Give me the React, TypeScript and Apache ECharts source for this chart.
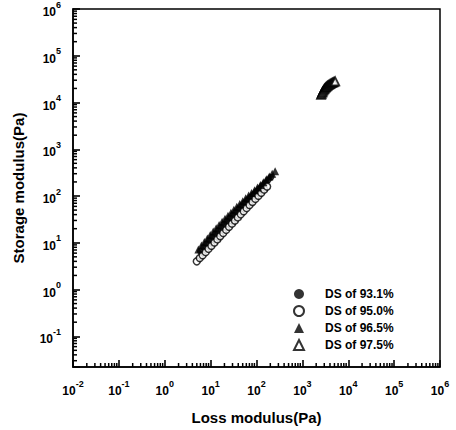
import React, { useEffect, useRef } from "react";
import * as echarts from "echarts";

const seriesNames = ["DS of 93.1%", "DS of 95.0%", "DS of 96.5%", "DS of 97.5%"];

// DS 93.1% (filled circles)
const ds931X = [6.0, 7.0, 8.1, 9.4, 10.9, 12.6, 14.6, 16.9, 19.6, 22.7, 26.3, 30.5, 35.3, 40.9, 47.4, 54.9, 63.6, 73.7, 85.4, 98.9, 115, 133, 154, 178, 206];
const ds931Y = [6.6, 7.9, 9.4, 11.1, 13.1, 15.4, 18.1, 21.2, 24.8, 29.0, 33.8, 39.3, 45.6, 52.8, 61.0, 70.5, 81.2, 93.5, 108, 124, 143, 165, 190, 219, 252];

// DS 95.0% (open circles)
const ds950X = [5.0, 5.8, 6.7, 7.8, 9.0, 10.4, 12.1, 14.0, 16.2, 18.8, 21.8, 25.2, 29.2, 33.8, 39.2, 45.4, 52.6, 60.9, 70.5, 81.7, 94.6, 110, 127, 147, 170];
const ds950Y = [4.0, 4.7, 5.4, 6.3, 7.4, 8.6, 10.1, 11.8, 13.8, 16.1, 18.8, 22.0, 25.6, 29.8, 34.8, 40.5, 47.2, 55.0, 64.0, 74.6, 86.8, 101, 117, 137, 159];

// DS 96.5% (filled triangles)
const ds965X = [5.4, 6.3, 7.3, 8.5, 9.8, 11.4, 13.2, 15.3, 17.8, 20.6, 23.9, 27.7, 32.1, 37.2, 43.2, 50.1, 58.1, 67.4, 78.1, 90.6, 105, 122, 141, 164, 190, 220, 255];
const ds965Y = [7.2, 8.7, 10.4, 12.4, 14.7, 17.4, 20.5, 24.0, 28.0, 32.6, 37.9, 43.9, 50.8, 58.6, 67.5, 77.6, 89.0, 102, 116, 133, 152, 173, 198, 228, 262, 299, 340];

// DS 97.5% (open triangles)
const ds975X = [2550, 2620, 2700, 2780, 2870, 2960, 3060, 3170, 3280, 3400, 3530, 3670, 3820, 3980, 4150, 4330, 4520, 4720, 4950, 5200];
const ds975Y = [14500, 15400, 16300, 17200, 18100, 19000, 19800, 20600, 21400, 22100, 22800, 23500, 24100, 24700, 25300, 25900, 26500, 27100, 27700, 28300];

const X_MIN = 0.01;
const X_MAX = 1e6;
const Y_MIN = 0.022;
const Y_MAX = 1e6;

const FONT = "'Liberation Sans', Arial, Helvetica, sans-serif";

function zip(xs: number[], ys: number[]) {
  return xs.map((x, i) => [x, ys[i]]);
}

function minorTicks(lo: number, hi: number) {
  const out: number[] = [];
  for (let e = -3; e <= 6; e++) {
    for (let m = 2; m <= 9; m++) {
      const v = m * Math.pow(10, e);
      if (v > lo && v < hi) out.push(v);
    }
  }
  return out;
}

function powLabel(v: number) {
  const l = Math.log10(v);
  const e = Math.round(l);
  if (Math.abs(l - e) > 1e-6) return "";
  return `{b|10}{s|${e}}`;
}

const richLabel = {
  b: { fontSize: 12, fontWeight: "bold", fontFamily: FONT, color: "#000", lineHeight: 18, verticalAlign: "bottom" },
  s: { fontSize: 9, fontWeight: "bold", fontFamily: FONT, color: "#000", lineHeight: 11, verticalAlign: "top" },
};

export default function App() {
  const ref = useRef<HTMLDivElement>(null);
  useEffect(() => {
    if (!ref.current) return;
    const chart = echarts.init(ref.current, null, { renderer: "svg" });
    const xMinor = minorTicks(X_MIN, X_MAX).map((v) => [v, Y_MIN]);
    const yMinor = minorTicks(Y_MIN, Y_MAX).map((v) => [X_MIN, v]);
    const black = "#000";
    chart.setOption({
      animation: false,
      backgroundColor: "#fff",
      grid: {
        left: 73,
        right: 16,
        top: 9,
        bottom: 58,
        show: true,
        borderColor: black,
        borderWidth: 1.5,
      },
      legend: {
        orient: "vertical",
        left: 288,
        top: 283,
        itemWidth: 10,
        itemHeight: 10,
        itemGap: 5,
        data: seriesNames,
        textStyle: {
          fontFamily: FONT,
          fontWeight: "bold",
          fontSize: 12,
          color: black,
          padding: [0, 0, 0, 16],
          lineHeight: 10,
        },
      },
      xAxis: {
        type: "log",
        logBase: 10,
        min: X_MIN,
        max: X_MAX,
        splitNumber: 8,
        z: 10,
        name: "Loss modulus(Pa)",
        nameLocation: "middle",
        nameGap: 43,
        nameTextStyle: { fontFamily: FONT, fontWeight: "bold", fontSize: 15, color: black },
        axisLine: { show: true, onZero: false, lineStyle: { color: black, width: 1.5 } },
        axisTick: { show: true, inside: true, length: 7, lineStyle: { color: black, width: 1.6 } },
        splitLine: { show: false },
        axisLabel: { margin: 12, formatter: powLabel, rich: richLabel },
      },
      yAxis: {
        type: "log",
        logBase: 10,
        min: Y_MIN,
        max: Y_MAX,
        splitNumber: 8,
        z: 10,
        name: "Storage modulus(Pa)",
        nameLocation: "middle",
        nameGap: 47,
        nameTextStyle: { fontFamily: FONT, fontWeight: "bold", fontSize: 15, color: black },
        axisLine: { show: true, onZero: false, lineStyle: { color: black, width: 1.5 } },
        axisTick: { show: true, inside: true, length: 7, lineStyle: { color: black, width: 1.6 } },
        splitLine: { show: false },
        axisLabel: { margin: 12, formatter: powLabel, rich: richLabel },
      },
      series: [
        {
          name: seriesNames[0],
          type: "scatter",
          symbol: "circle",
          symbolSize: 7,
          itemStyle: { color: black },
          data: zip(ds931X, ds931Y),
        },
        {
          name: seriesNames[1],
          type: "scatter",
          symbol: "circle",
          symbolSize: 7,
          itemStyle: { color: "#fff", borderColor: black, borderWidth: 1.5 },
          data: zip(ds950X, ds950Y),
        },
        {
          name: seriesNames[2],
          type: "scatter",
          symbol: "triangle",
          symbolSize: 8,
          itemStyle: { color: black },
          data: zip(ds965X, ds965Y),
        },
        {
          name: seriesNames[3],
          type: "scatter",
          symbol: "triangle",
          symbolSize: 8,
          itemStyle: { color: "#fff", borderColor: black, borderWidth: 1.8 },
          data: zip(ds975X, ds975Y),
        },
        {
          type: "custom",
          coordinateSystem: "cartesian2d",
          silent: true,
          clip: false,
          z: 10,
          data: xMinor,
          renderItem: (_p: any, api: any) => {
            const pt = api.coord([api.value(0), api.value(1)]);
            return {
              type: "line",
              shape: { x1: pt[0], y1: pt[1], x2: pt[0], y2: pt[1] - 4 },
              style: { stroke: black, lineWidth: 1.5 },
            };
          },
        },
        {
          type: "custom",
          coordinateSystem: "cartesian2d",
          silent: true,
          clip: false,
          z: 10,
          data: yMinor,
          renderItem: (_p: any, api: any) => {
            const pt = api.coord([api.value(0), api.value(1)]);
            return {
              type: "line",
              shape: { x1: pt[0], y1: pt[1], x2: pt[0] + 4, y2: pt[1] },
              style: { stroke: black, lineWidth: 1.5 },
            };
          },
        },
      ],
    });
    return () => chart.dispose();
  }, []);
  return (
    <div
      ref={ref}
      style={{ position: "absolute", left: 0, top: 0, width: 456, height: 430, background: "#fff" }}
    />
  );
}
